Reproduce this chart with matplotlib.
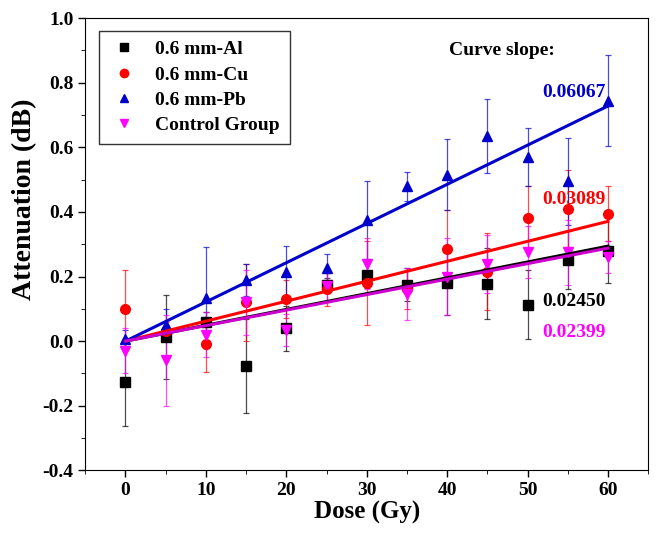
import numpy as np
from matplotlib import pyplot as plt
from matplotlib.lines import Line2D

plt.rcParams['font.family'] = ['Liberation Serif', 'DejaVu Serif']
plt.rcParams['font.weight'] = 'bold'

# Data
dose = [0, 5, 10, 15, 20, 25, 30, 35, 40, 45, 50, 55, 60]

al = [-0.127, 0.012, 0.06, -0.077, 0.04, 0.175, 0.205, 0.175, 0.18, 0.178, 0.113, 0.25, 0.28]
al_err = [0.135, 0.13, 0.03, 0.145, 0.07, 0.02, 0.04, 0.05, 0.1, 0.11, 0.107, 0.09, 0.1]

cu = [0.10, 0.03, -0.01, 0.12, 0.13, 0.16, 0.18, 0.16, 0.285, 0.215, 0.38, 0.41, 0.395]
cu_err = [0.12, 0.03, 0.085, 0.12, 0.06, 0.05, 0.13, 0.06, 0.12, 0.12, 0.1, 0.12, 0.085]

pb = [0.005, 0.05, 0.135, 0.19, 0.215, 0.225, 0.375, 0.48, 0.515, 0.635, 0.57, 0.495, 0.745]
pb_err = [0.03, 0.05, 0.155, 0.05, 0.08, 0.045, 0.12, 0.045, 0.11, 0.115, 0.09, 0.135, 0.14]

ctrl = [-0.03, -0.06, 0.02, 0.12, 0.035, 0.17, 0.24, 0.145, 0.2, 0.24, 0.275, 0.275, 0.26]
ctrl_err = [0.07, 0.14, 0.07, 0.1, 0.05, 0.05, 0.08, 0.08, 0.12, 0.09, 0.08, 0.1, 0.05]

# slopes as printed (per 5 Gy step)
slope_al, slope_cu, slope_pb, slope_ctrl = 0.02450, 0.03089, 0.06067, 0.02399

fig = plt.figure(figsize=(6.56, 5.35), dpi=100)
ax = fig.add_axes([0.13, 0.121, 0.858, 0.845])

series = [
    (al, al_err, 'k', 's', '0.6 mm-Al', slope_al),
    (cu, cu_err, 'r', 'o', '0.6 mm-Cu', slope_cu),
    (pb, pb_err, '#0000cc', '^', '0.6 mm-Pb', slope_pb),
    (ctrl, ctrl_err, '#ff00ff', 'v', 'Control Group', slope_ctrl),
]

xs = np.array([0, 60])
handles = []
for y, e, c, m, lab, s in series:
    ax.errorbar(dose, y, yerr=e, fmt='none', ecolor=c, elinewidth=0.9, capsize=2,
                capthick=0.9, alpha=0.7, zorder=2)
    ax.plot(dose, y, m, color=c, ms=7, ls='none', zorder=3)
    handles.append(Line2D([], [], marker=m, color=c, ls='none', ms=6, label=lab))
for y, e, c, m, lab, s in series:
    lc = c if c != '#ff00ff' else '#cc00cc'
    ax.plot(xs, s / 5 * xs, color=lc, lw=2.2, zorder=4)

ax.set_xlim(-5, 65)
ax.set_ylim(-0.4, 1.0)
ax.set_xticks(range(0, 61, 10))
ax.set_xticks(range(-5, 66, 5), minor=True)
ax.set_yticks(np.arange(-0.4, 1.01, 0.2))
ax.set_yticks(np.arange(-0.4, 1.01, 0.1), minor=True)
ax.set_yticklabels(['%.1f' % v for v in np.arange(-0.4, 1.01, 0.2)])
ax.tick_params(labelsize=14, direction='out', length=5, width=1)
ax.tick_params(which='minor', direction='out', length=3)
ax.set_xlabel('Dose (Gy)', fontsize=18, fontweight='bold', labelpad=1)
ax.set_ylabel('Attenuation (dB)', fontsize=20, fontweight='bold')
ax.yaxis.set_label_coords(-0.085, 0.6)

leg = ax.legend(handles=handles, loc='upper left', fontsize=14, frameon=True, fancybox=False,
                edgecolor='k', handletextpad=0.8, handlelength=1.6, labelspacing=0.4,
                bbox_to_anchor=(0.014, 0.985), borderaxespad=0.3, borderpad=0.5)
leg.get_frame().set_linewidth(1)

ax.text(46.8, 0.9, 'Curve slope:', fontsize=14, fontweight='bold', ha='center', va='center')
ax.text(59.7, 0.77, '%.5f' % slope_pb, color='#0000cc', fontsize=14, fontweight='bold', ha='right', va='center')
ax.text(59.7, 0.438, '%.5f' % slope_cu, color='r', fontsize=14, fontweight='bold', ha='right', va='center')
ax.text(59.7, 0.123, '%.5f' % slope_al, color='k', fontsize=14, fontweight='bold', ha='right', va='center')
ax.text(59.7, 0.028, '%.5f' % slope_ctrl, color='#ff00ff', fontsize=14, fontweight='bold', ha='right', va='center')

fig.savefig('out.png', dpi=100)
